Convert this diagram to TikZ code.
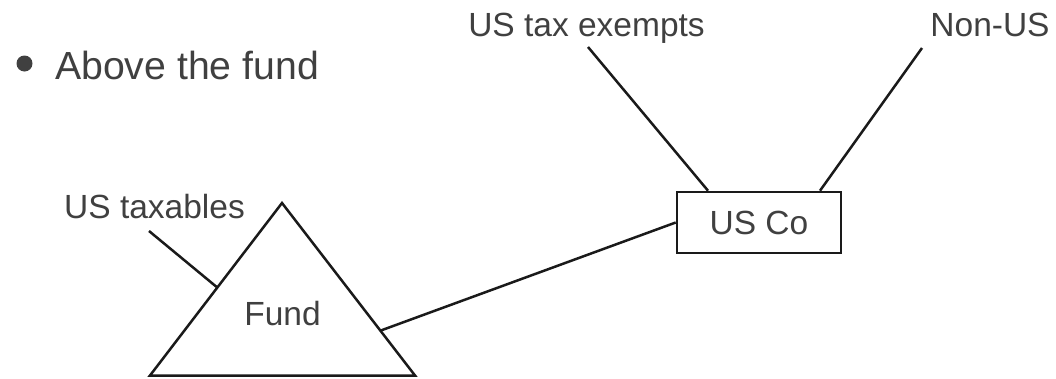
\documentclass[tikz,border=0pt]{standalone}
\usepackage{fontspec}
\setmainfont{Liberation Sans}
\usetikzlibrary{calc}
\definecolor{txtgray}{HTML}{404040}
\definecolor{linegray}{HTML}{1A1A1A}
\tikzset{
  lbl/.style={text=txtgray, font=\fontsize{33.5}{40}\selectfont, inner sep=0pt, anchor=base},
  bigtxt/.style={text=txtgray, font=\fontsize{39.2}{47}\selectfont, inner sep=0pt, anchor=base west},
  link/.style={draw=linegray, line width=2.5pt},
  cobox/.style={draw=linegray, line width=2.6pt, minimum width=164pt, minimum height=61pt, inner sep=0pt, text=txtgray, font=\fontsize{33.5}{40}\selectfont}
}
\begin{document}
\begin{tikzpicture}[x=1pt,y=-1pt]
  \useasboundingbox (0,0) rectangle (1056,378);

  % bullet line
  \fill[txtgray] (24.5,63.5) circle (8);
  \node[bigtxt] (above) at (55,79) {Above the fund};

  % fund triangle
  \coordinate (apex) at (282,203);
  \coordinate (bl) at (150,375.5);
  \coordinate (br) at (415,375.5);
  \draw[link, line join=miter] (apex) -- (bl) -- (br) -- cycle;
  \node[lbl] (fund) at (282.5,325) {Fund};

  % US Co blocker
  \node[cobox] (usco) at (759,222.5) {US Co};

  % investor labels
  \node[lbl] (taxables) at (154.5,218) {US taxables};
  \node[lbl] (exempts) at (586.5,36) {US tax exempts};
  \node[lbl] (nonus) at (990,36) {Non-US};

  % connector ends
  \coordinate (taxA) at (149,231);
  \coordinate (taxB) at ($(apex)!0.49!(bl)$);
  \coordinate (fundR) at ($(apex)!0.74!(br)$);
  \coordinate (exA) at (588,47);
  \coordinate (nuA) at (922,48);

  \draw[link] (taxA) -- (taxB);
  \draw[link] (fundR) -- (usco.west);
  \draw[link] (exA) -- ($(usco.north)+(-51,0)$);
  \draw[link] (nuA) -- ($(usco.north)+(61,0)$);
\end{tikzpicture}
\end{document}
